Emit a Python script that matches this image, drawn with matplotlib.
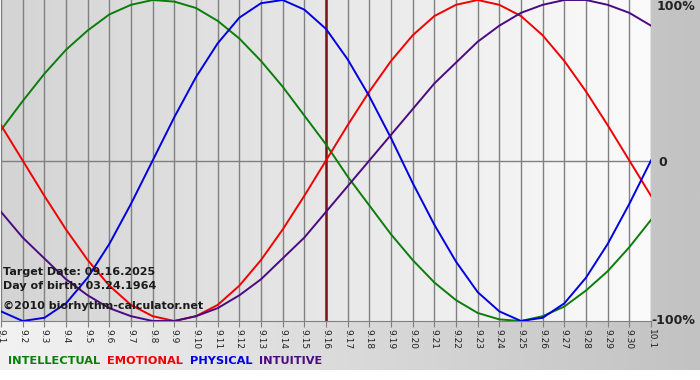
import numpy as np
import matplotlib.pyplot as plt
from matplotlib.colors import LinearSegmentedColormap

# days shown: 9.1 .. 10.1
day_labels = ["9.%d" % d for d in range(1, 31)] + ["10.1"]

# biorhythm values (-1..1)
intellectual = [0.19, 0.37, 0.54, 0.69, 0.81, 0.91, 0.97, 1.00, 0.99, 0.95,
                0.87, 0.76, 0.62, 0.46, 0.28, 0.10, -0.10, -0.28, -0.46, -0.62,
                -0.76, -0.87, -0.95, -0.99, -1.00, -0.97, -0.91, -0.81, -0.69, -0.54,
                -0.37]
emotional = [0.22, 0.00, -0.22, -0.43, -0.62, -0.78, -0.90, -0.97, -1.00, -0.97,
             -0.90, -0.78, -0.62, -0.43, -0.22, 0.00, 0.22, 0.43, 0.62, 0.78,
             0.90, 0.97, 1.00, 0.97, 0.90, 0.78, 0.62, 0.43, 0.22, 0.00,
             -0.22]
physical = [-0.94, -1.00, -0.98, -0.89, -0.73, -0.52, -0.27, 0.00, 0.27, 0.52,
            0.73, 0.89, 0.98, 1.00, 0.94, 0.82, 0.63, 0.40, 0.14, -0.14,
            -0.40, -0.63, -0.82, -0.94, -1.00, -0.98, -0.89, -0.73, -0.52, -0.27,
            0.00]
intuitive = [-0.32, -0.48, -0.61, -0.74, -0.84, -0.92, -0.97, -1.00, -1.00, -0.97,
             -0.92, -0.84, -0.74, -0.61, -0.48, -0.32, -0.16, 0.00, 0.16, 0.32,
             0.48, 0.61, 0.74, 0.84, 0.92, 0.97, 1.00, 1.00, 0.97, 0.92,
             0.84]

series = [
    ("INTELLECTUAL", intellectual, "#0a7d0a"),
    ("EMOTIONAL", emotional, "#f00000"),
    ("PHYSICAL", physical, "#0000e0"),
    ("INTUITIVE", intuitive, "#4b0a82"),
]
target_idx = 15  # 9.16
target_text = "Target Date: 09.16.2025"
birth_text = "Day of birth: 03.24.1964"
copy_text = "\u00a92010 biorhythm-calculator.net"

fig = plt.figure(figsize=(7, 3.8), dpi=100)
fig.patch.set_facecolor("white")

# outer background gradient (light left -> gray right)
grad = np.linspace(0, 1, 256).reshape(1, -1)
bg = fig.add_axes([0, 10 / 380, 1, 370 / 380], zorder=-5)
bg.imshow(grad, aspect="auto", extent=[0, 1, 0, 1],
          cmap=LinearSegmentedColormap.from_list("bg", ["#f2f2f2", "#c2c2c2"]))
bg.axis("off")

ax = fig.add_axes([1 / 700, 59 / 380, 650 / 700, 321 / 380])
x = np.arange(len(day_labels))
ax.set_xlim(0, len(day_labels) - 1)
ax.set_ylim(-1.0, 1.0)

# plot area gradient (darker left -> almost white right)
ax.imshow(grad, aspect="auto", extent=[0, len(day_labels) - 1, -1, 1], zorder=0,
          cmap=LinearSegmentedColormap.from_list("pa", ["#d4d4d4", "#fbfbfb"]))

for xi in x:
    ax.axvline(xi, color="#808080", lw=1.0, zorder=1)
ax.axhline(0, color="#808080", lw=1.0, zorder=1)
ax.axvline(target_idx, color="#7a1414", lw=1.8, zorder=2)

for name, vals, col in series:
    ax.plot(x, vals, color=col, lw=1.4, zorder=3)

for s in ["top", "left", "right"]:
    ax.spines[s].set_visible(False)
ax.spines["bottom"].set_color("#808080")
ax.set_xticks(x)
ax.set_xticklabels(day_labels, rotation=-90, fontsize=6.5, color="#222222")
ax.tick_params(axis="x", length=4, color="#808080", pad=2)
ax.set_yticks([])

# right side labels
ax.text(1.008, 0.98, "100%", transform=ax.transAxes, fontsize=9, fontweight="bold",
        color="#222222", va="center", ha="left")
ax.text(1.012, 0.495, "0", transform=ax.transAxes, fontsize=9, fontweight="bold",
        color="#222222", va="center", ha="left")
ax.text(1.0, 0.0, "-100%", transform=ax.transAxes, fontsize=9, fontweight="bold",
        color="#222222", va="center", ha="left")

# overlay text
fig.text(3 / 700, 1 - 272 / 380, target_text, fontsize=8, fontweight="bold",
         color="#1a1a1a", va="center", ha="left")
fig.text(3 / 700, 1 - 286 / 380, birth_text, fontsize=8, fontweight="bold",
         color="#1a1a1a", va="center", ha="left")
fig.text(3 / 700, 1 - 306 / 380, copy_text, fontsize=8, fontweight="bold",
         color="#1a1a1a", va="center", ha="left")

# colored legend words
xpos = 8 / 700
for name, vals, col in series:
    t = fig.text(xpos, 1 - 361 / 380, name, fontsize=8.2, fontweight="bold",
                 color=col, va="center", ha="left")
    fig.canvas.draw()
    bb = t.get_window_extent()
    xpos = (bb.x1 + 7) / 700

fig.savefig("out.png", dpi=100)
